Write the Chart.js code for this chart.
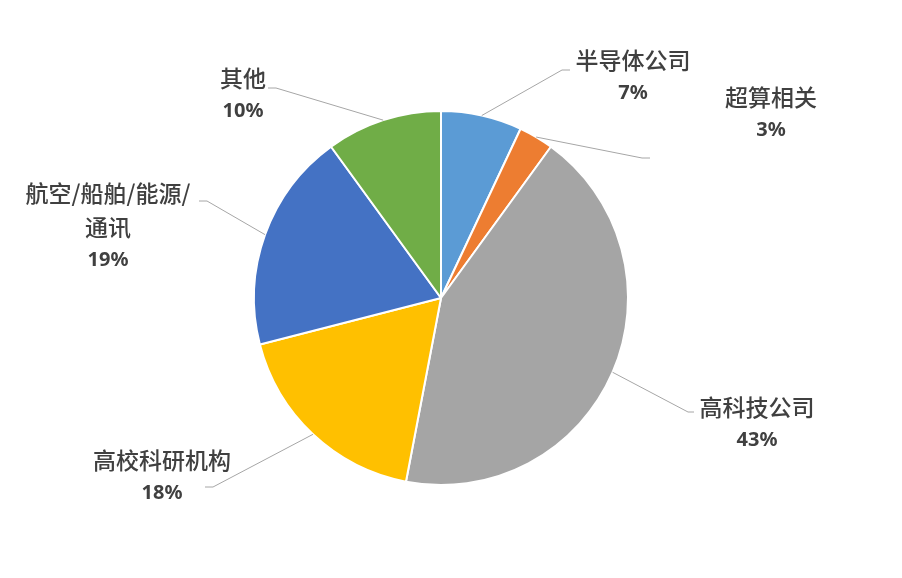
<!DOCTYPE html>
<html>
<head>
<meta charset="utf-8">
<script src="https://cdn.jsdelivr.net/npm/chart.js@4/dist/chart.umd.min.js"></script>
<style>
  html, body { margin: 0; padding: 0; background: #fff; }
</style>
</head>
<body>
<canvas id="pie" width="902" height="578"></canvas>
<script>
// 数据
const categories = ['半导体公司', '超算相关', '高科技公司', '高校科研机构', '航空/船舶/能源/通讯', '其他'];
const shares = [7, 3, 43, 18, 19, 10];
const colors = ['#5B9BD5', '#ED7D31', '#A5A5A5', '#FFC000', '#4472C4', '#70AD47'];

// 标签换行
const labelLines = [['半导体公司'], ['超算相关'], ['高科技公司'], ['高校科研机构'], ['航空/船舶/能源/', '通讯'], ['其他']];

// 标签位置（相对圆心）：文字中心、引线拐点、引线终点
const labelAt = [[192, -238], [330, -201], [316, 109], [-279, 162], [-333, -105], [-198, -220]];
const elbowAt = [[121, -228], [201, -140], [247, 114], [-228, 189], [-234, -97], [-165, -210]];
const tailAt = [[129, -228], [209, -140], [253, 114], [-236, 189], [-242, -97], [-173, -210]];

const outsideLabels = {
    id: 'outsideLabels',
    afterDatasetsDraw(chart) {
        const ctx = chart.ctx;
        const arcs = chart.getDatasetMeta(0).data;
        const total = shares.reduce((a, b) => a + b, 0);
        ctx.save();
        arcs.forEach((arc, i) => {
            const { x, y, startAngle, endAngle, outerRadius } = arc.getProps(['x', 'y', 'startAngle', 'endAngle', 'outerRadius'], true);
            const mid = (startAngle + endAngle) / 2;

            // 引线
            ctx.strokeStyle = '#A6A6A6';
            ctx.lineWidth = 1;
            ctx.beginPath();
            ctx.moveTo(x + Math.cos(mid) * outerRadius, y + Math.sin(mid) * outerRadius);
            ctx.lineTo(x + elbowAt[i][0], y + elbowAt[i][1]);
            ctx.lineTo(x + tailAt[i][0], y + tailAt[i][1]);
            ctx.stroke();

            // 文字
            ctx.fillStyle = '#404040';
            ctx.textAlign = 'center';
            ctx.textBaseline = 'middle';
            const lx = x + labelAt[i][0];
            let ly = y + labelAt[i][1];
            ctx.font = '500 23px "Noto Sans CJK SC", "Noto Sans", sans-serif';
            labelLines[i].forEach(line => {
                ctx.fillText(line, lx, ly);
                ly += 34;
            });
            ctx.font = 'bold 20px "Noto Sans", "Noto Sans CJK SC", sans-serif';
            ctx.fillText(Math.round(shares[i] / total * 100) + '%', lx, ly - 1);
        });
        ctx.restore();
    }
};

new Chart(document.getElementById('pie').getContext('2d'), {
    type: 'pie',
    data: {
        labels: categories,
        datasets: [{
            data: shares,
            backgroundColor: colors,
            borderColor: '#FFFFFF',
            borderWidth: 2
        }]
    },
    options: {
        responsive: false,
        animation: false,
        layout: { padding: { top: 110, bottom: 92, left: 253, right: 273 } },
        plugins: {
            legend: { display: false },
            tooltip: { enabled: false }
        }
    },
    plugins: [outsideLabels]
});
</script>
</body>
</html>
